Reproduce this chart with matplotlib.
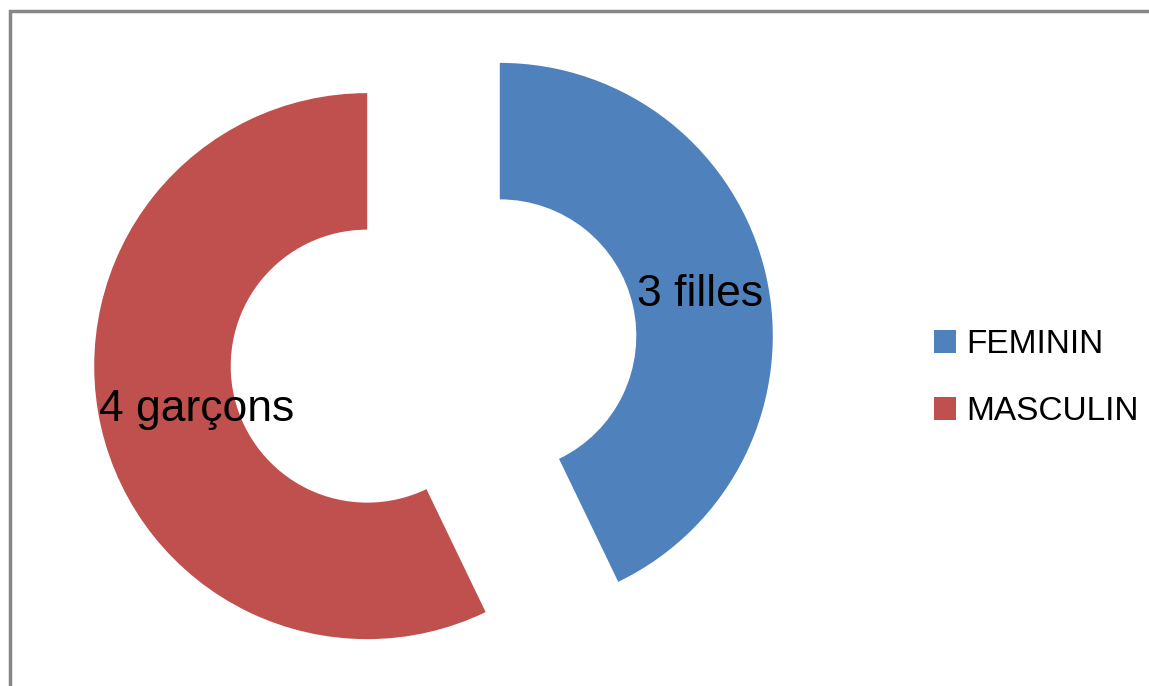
import math
import matplotlib.pyplot as plt
from matplotlib.patches import Rectangle, Patch

# Répartition par sexe
categories = ['FEMININ', 'MASCULIN']
effectifs = [3, 4]
etiquettes = ['3 filles', '4 garçons']
couleurs = ['#4F81BD', '#C0504D']

W, H = 1149, 686
plt.rcParams['font.family'] = ['Liberation Sans', 'DejaVu Sans']

fig = plt.figure(figsize=(W / 100, H / 100), dpi=100)
ax = fig.add_axes([0, 0, 1, 1])

rayon = 273
centre = (433.5, H - 351)
ecart = 68

wedges, _ = ax.pie(effectifs, colors=couleurs, startangle=90, counterclock=False,
                   radius=rayon, center=centre, explode=[ecart, ecart],
                   wedgeprops=dict(width=rayon / 2, linewidth=0), frame=True)
ax.set_xlim(0, W)
ax.set_ylim(0, H)
ax.set_aspect('equal')
ax.axis('off')

# étiquettes placées dans l'anneau de chaque secteur
dist = [0.753, 0.64]
for w, lab, d in zip(wedges, etiquettes, dist):
    tm = math.radians((w.theta1 + w.theta2) / 2)
    cx, cy = w.center
    ax.text(cx + d * rayon * math.cos(tm), cy + d * rayon * math.sin(tm), lab,
            ha='center', va='center_baseline', fontsize=32, color='black')

handles = [Patch(facecolor=c, edgecolor='none') for c in couleurs]
leg = fig.legend(handles, categories, loc='center left', bbox_to_anchor=(904 / W, 1 - 378 / H),
                 frameon=False, fontsize=24, handlelength=0.66, handleheight=0.66,
                 handletextpad=0.3, labelspacing=1.08)

# cadre gris
fig.add_artist(Rectangle((9.5 / W, -0.1), 1.2, 1 - 11 / H + 0.1, transform=fig.transFigure,
                         fill=False, edgecolor='#878787', linewidth=2.5))

fig.savefig('out.png', dpi=100)
